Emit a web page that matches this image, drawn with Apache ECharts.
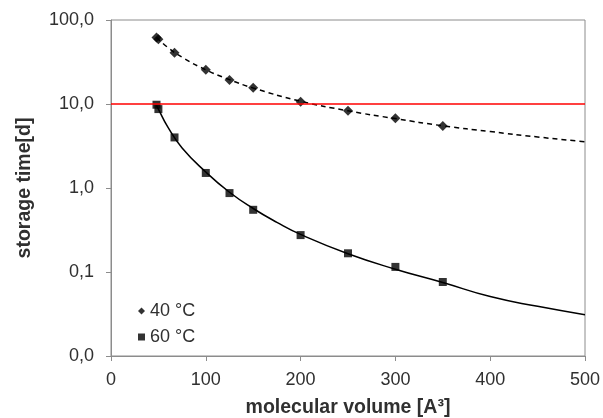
<!DOCTYPE html>
<html><head><meta charset="utf-8">
<script src="https://cdn.jsdelivr.net/npm/echarts@6/dist/echarts.min.js"></script>
<style>html,body{margin:0;padding:0;background:#fff}#c{width:603px;height:418px}</style>
</head><body><div id="c"></div>
<script>
// Measured points
const x40 = [48, 50, 67, 100, 125, 150, 200, 250, 300, 350];
const y40 = [62, 59, 40.8, 25.6, 19.3, 15.6, 10.6, 8.3, 6.76, 5.47];
const x60 = [48, 50, 67, 100, 125, 150, 200, 250, 300, 350];
const y60 = [9.8, 8.7, 4.0, 1.51, 0.87, 0.55, 0.275, 0.167, 0.115, 0.076];
// Trend curves
const tx40 = [48, 60, 75, 100, 125, 150, 200, 250, 300, 350, 400, 450, 500];
const ty40 = [62, 47, 36, 25.5, 19.5, 15.5, 10.8, 8.3, 6.7, 5.5, 4.7, 4.05, 3.55];
const tx60 = [48, 50, 60, 75, 100, 125, 150, 175, 200, 250, 300, 350, 400, 450, 500];
const ty60 = [9.6, 8.7, 5.3, 3.0, 1.55, 0.89, 0.57, 0.39, 0.28, 0.165, 0.108, 0.075, 0.051, 0.039, 0.031];
const limit = 10;
const names = ['40 °C', '60 °C'];

const zip = (a, b) => a.map((v, i) => [v, b[i]]);
const chart = echarts.init(document.getElementById('c'));
const txt = '#303030';
chart.setOption({
  animation: false,
  backgroundColor: '#fff',
  textStyle: { fontFamily: 'Arial, "Liberation Sans", sans-serif' },
  grid: { left: 111, top: 20, right: 18, bottom: 62, containLabel: false, outerBoundsMode: 'none',
    show: true, borderColor: '#8c8c8c', borderWidth: 1 },
  legend: {
    data: [{ name: names[0], icon: 'diamond' }, { name: names[1], icon: 'rect' }],
    orient: 'vertical', left: 133, top: 297, itemWidth: 7, itemHeight: 7, itemGap: 8,
    textStyle: { fontSize: 18, color: txt }, itemStyle: { color: '#000' }
  },
  xAxis: {
    type: 'value', min: 0, max: 500, interval: 100,
    name: 'molecular volume [A³]', nameLocation: 'middle', nameGap: 42,
    nameTextStyle: { fontSize: 19.5, fontWeight: 'bold', color: txt },
    axisLine: { lineStyle: { color: '#8c8c8c' } },
    axisTick: { show: true, length: 5, lineStyle: { color: '#8c8c8c' } },
    axisLabel: { fontSize: 18, color: txt, margin: 15 },
    splitLine: { show: false }
  },
  yAxis: {
    type: 'log', logBase: 10, min: 0.01, max: 100,
    name: 'storage time[d]', nameLocation: 'middle', nameGap: 76,
    nameTextStyle: { fontSize: 19.5, fontWeight: 'bold', color: txt },
    axisLine: { show: true, lineStyle: { color: '#8c8c8c' } },
    axisTick: { show: true, length: 5, lineStyle: { color: '#8c8c8c' } },
    axisLabel: { fontSize: 18, color: txt, margin: 17, formatter: v => v.toFixed(1).replace('.', ',') },
    splitLine: { show: false }, minorTick: { show: false }
  },
  series: [
    { type: 'line', data: zip(tx40, ty40), smooth: true, symbol: 'none', silent: true,
      lineStyle: { color: '#000', width: 1.5, type: [5, 4] }, z: 2 },
    { type: 'line', data: zip(tx60, ty60), smooth: true, symbol: 'none', silent: true,
      lineStyle: { color: '#000', width: 1.5 }, z: 2,
      markLine: { silent: true, symbol: 'none', label: { show: false },
        lineStyle: { color: '#ff0000', width: 1.5, type: 'solid' }, data: [{ yAxis: limit }] } },
    { name: names[0], type: 'scatter', data: zip(x40, y40), symbol: 'diamond', symbolSize: 10,
      itemStyle: { color: '#000' }, z: 3 },
    { name: names[1], type: 'scatter', data: zip(x60, y60), symbol: 'rect', symbolSize: 8,
      itemStyle: { color: '#000' }, z: 3 }
  ]
});
</script></body></html>
